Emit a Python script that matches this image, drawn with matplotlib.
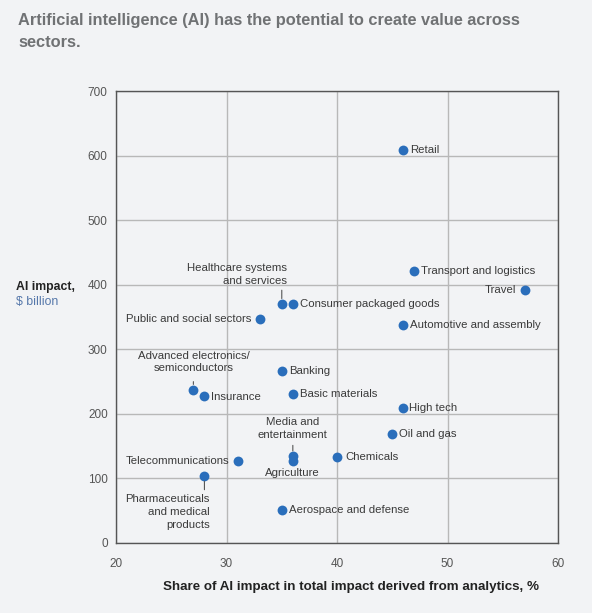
import matplotlib
matplotlib.use("Agg")
import matplotlib.pyplot as plt

plt.rcParams['font.family'] = ['Liberation Sans', 'DejaVu Sans']

sectors = ["Retail", "Transport and logistics", "Travel", "Consumer packaged goods",
           "Healthcare systems\nand services", "Public and social sectors",
           "Automotive and assembly", "Banking", "Advanced electronics/\nsemiconductors",
           "Insurance", "Basic materials", "High tech", "Oil and gas", "Chemicals",
           "Media and\nentertainment", "Agriculture", "Telecommunications",
           "Pharmaceuticals\nand medical\nproducts", "Aerospace and defense"]
share = [46, 47, 57, 36, 35, 33, 46, 35, 27, 28, 36, 46, 45, 40, 36, 36, 31, 28, 35]
impact = [609, 422, 392, 370, 370, 347, 337, 266, 237, 228, 231, 209, 169, 133, 134, 127, 127, 104, 51]

x_ticks = [20, 30, 40, 50, 60]
y_ticks = [0, 100, 200, 300, 400, 500, 600, 700]

# label placement: (dx, dy) in points, ha, va, leader (dy of leader end in points or None)
placement = {
    "Retail": ((5, 0), 'left', 'center', None),
    "Transport and logistics": ((5, 0), 'left', 'center', None),
    "Travel": ((-6, 0), 'right', 'center', None),
    "Consumer packaged goods": ((5, 0), 'left', 'center', None),
    "Healthcare systems\nand services": ((4, 13), 'right', 'bottom', 10),
    "Public and social sectors": ((-6, 0), 'right', 'center', None),
    "Automotive and assembly": ((5, 0), 'left', 'center', None),
    "Banking": ((5, 0), 'left', 'center', None),
    "Advanced electronics/\nsemiconductors": ((0, 12), 'center', 'bottom', 6),
    "Insurance": ((5, -1), 'left', 'center', None),
    "Basic materials": ((5, 0), 'left', 'center', None),
    "High tech": ((4, 0), 'left', 'center', None),
    "Oil and gas": ((5, 0), 'left', 'center', None),
    "Chemicals": ((6, 0), 'left', 'center', None),
    "Media and\nentertainment": ((0, 12), 'center', 'bottom', 8),
    "Agriculture": ((0, -5), 'center', 'top', None),
    "Telecommunications": ((-6, 0), 'right', 'center', None),
    "Pharmaceuticals\nand medical\nproducts": ((4, -13), 'right', 'top', -10),
    "Aerospace and defense": ((5, 0), 'left', 'center', None),
}

bg = '#f2f3f5'
dot = '#2a6ebb'
txt = '#3a3a3a'

fig = plt.figure(figsize=(5.92, 6.13), dpi=100, facecolor=bg)
ax = fig.add_axes([0.196, 0.1142, 0.7466, 0.7373], facecolor=bg)

ax.set_xlim(20, 60)
ax.set_ylim(0, 700)
ax.set_xticks(x_ticks)
ax.set_yticks(y_ticks)
ax.tick_params(length=0, labelsize=8.5, labelcolor='#555555')
ax.tick_params(axis='x', pad=11)
ax.tick_params(axis='y', pad=6)
ax.grid(True, color='#b8b8b8', lw=1)
ax.set_axisbelow(True)
for s in ax.spines.values():
    s.set_color('#555555')
    s.set_linewidth(1.0)

ax.scatter(share, impact, s=50, color=dot, zorder=3, linewidths=0)

for name, x, y in zip(sectors, share, impact):
    (dx, dy), ha, va, lead = placement[name]
    ax.annotate(name, (x, y), xytext=(dx, dy), textcoords='offset points',
                ha=ha, va=va, fontsize=8.2, color=txt, linespacing=1.35, zorder=4)
    if lead is not None:
        ax.annotate('', xy=(x, y), xytext=(0, lead), textcoords='offset points',
                    arrowprops=dict(arrowstyle='-', color='#555555', lw=0.8,
                                    shrinkA=0, shrinkB=4))

ax.set_xlabel("Share of AI impact in total impact derived from analytics, %",
              fontsize=9.6, fontweight='bold', color='#222222', labelpad=10)
ax.xaxis.set_label_coords(0.532, -0.085)

fig.text(18/592, 1 - 13/613, "Artificial intelligence (AI) has the potential to create value across\nsectors.",
         fontsize=11.8, fontweight='bold', color='#707274', va='top', ha='left', linespacing=1.55)
fig.text(16/592, 1 - 287/613, "AI impact,", fontsize=8.8, fontweight='bold', color='#222222',
         va='center', ha='left')
fig.text(16/592, 1 - 302/613, "$ billion", fontsize=8.8, color='#5577aa', va='center', ha='left')

fig.savefig("out.png", dpi=100, facecolor=bg)
